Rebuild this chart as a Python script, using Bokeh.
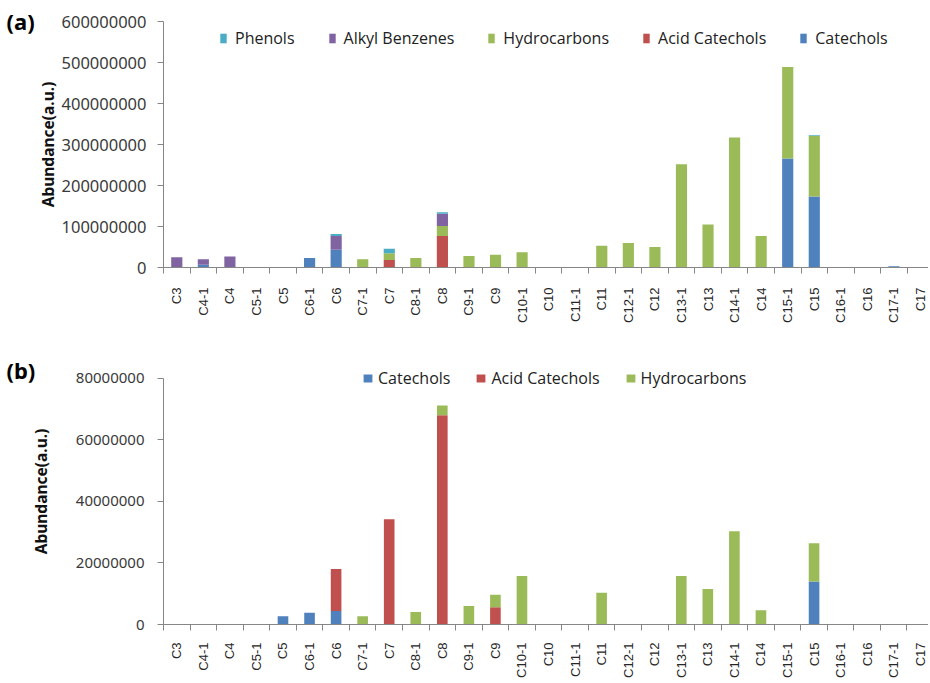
import math
from bokeh.plotting import figure
from bokeh.layouts import column, row
from bokeh.models import (ColumnDataSource, Range1d, FixedTicker, SingleIntervalTicker,
                          NumeralTickFormatter, Legend, LegendItem)
from bokeh.core.properties import value
from bokeh.embed import file_html
from bokeh.resources import INLINE

categories = ["C3", "C4-1", "C4", "C5-1", "C5", "C6-1", "C6", "C7-1", "C7", "C8-1",
              "C8", "C9-1", "C9", "C10-1", "C10", "C11-1", "C11", "C12-1", "C12",
              "C13-1", "C13", "C14-1", "C14", "C15-1", "C15", "C16-1", "C16",
              "C17-1", "C17"]

# Panel (a)
catechols_a = [0, 7e6, 0, 0, 0, 23e6, 43e6, 0, 0, 0, 0, 0, 0, 0, 0, 0, 0, 0, 0,
               0, 0, 0, 0, 266e6, 173e6, 0, 0, 3e6, 0]
acid_catechols_a = [0, 0, 0, 0, 0, 0, 0, 0, 18e6, 0, 77e6, 0, 0, 0, 0, 0, 0, 0, 0,
                    0, 0, 0, 0, 0, 0, 0, 0, 0, 0]
hydrocarbons_a = [0, 0, 0, 0, 0, 0, 0, 20e6, 17e6, 23e6, 24e6, 28e6, 31e6, 37e6, 0, 0,
                  53e6, 60e6, 50e6, 252e6, 105e6, 317e6, 77e6, 223e6, 148e6, 0, 0, 0, 0]
alkyl_benzenes_a = [25e6, 13e6, 27e6, 0, 0, 0, 34e6, 0, 0, 0, 30e6, 0, 0, 0, 0, 0, 0,
                    0, 0, 0, 0, 0, 0, 0, 0, 0, 0, 0, 0]
phenols_a = [0, 0, 0, 0, 0, 0, 5e6, 0, 11e6, 0, 4e6, 0, 0, 0, 0, 0, 0, 0, 0, 0, 0,
             0, 0, 0, 1.5e6, 0, 0, 0, 0]

# Panel (b)
catechols_b = [0, 0, 0, 0, 2.7e6, 3.8e6, 4.4e6, 0, 0, 0, 0, 0, 0, 0, 0, 0, 0, 0, 0,
               0, 0, 0, 0, 0, 14e6, 0, 0, 0, 0]
acid_catechols_b = [0, 0, 0, 0, 0, 0, 13.6e6, 0, 34.2e6, 0, 68e6, 0, 5.6e6, 0, 0, 0,
                    0, 0, 0, 0, 0, 0, 0, 0, 0, 0, 0, 0, 0]
hydrocarbons_b = [0, 0, 0, 0, 0, 0, 0, 2.7e6, 0, 4.1e6, 3.2e6, 6e6, 4.1e6, 15.8e6, 0,
                  0, 10.3e6, 0, 0, 15.8e6, 11.5e6, 30.3e6, 4.6e6, 0, 12.4e6, 0, 0, 0, 0]

y_max_a = 600000000
y_max_b = 80000000
y_step_a = 100000000
y_step_b = 20000000
panel_labels = ["(a)", "(b)"]
y_title = "Abundance(a.u.)"

COL = {"Catechols": "#4F81BD", "Acid Catechols": "#C0504D", "Hydrocarbons": "#9BBB59",
       "Alkyl Benzenes": "#8064A2", "Phenols": "#4BACC6"}
AXIS = "#868686"
n = len(categories)
xs = list(range(n))
STRIP_W = 58
STRIP_H = 680
MAIN_W = 870


def make_fig(height, border_top, border_bottom, border_left, x_end, y_end, y_max, interval,
             ylab_size, ylab_standoff, tick_standoff):
    p = figure(width=MAIN_W, height=height, x_range=Range1d(-0.5, x_end),
               y_range=Range1d(0, y_end), output_backend="svg", toolbar_location=None,
               min_border_left=border_left, min_border_right=0,
               min_border_top=border_top, min_border_bottom=border_bottom)
    p.outline_line_color = None
    p.xgrid.visible = False
    p.ygrid.visible = False
    xa = p.xaxis[0]
    xa.ticker = FixedTicker(ticks=xs, minor_ticks=[i - 0.5 for i in range(n + 1)])
    xa.major_label_overrides = {i: c for i, c in enumerate(categories)}
    xa.major_label_orientation = math.pi / 2
    xa.major_tick_line_color = None
    xa.major_tick_out = 0
    xa.major_tick_in = 0
    xa.minor_tick_out = 6
    xa.minor_tick_in = 0
    xa.minor_tick_line_color = AXIS
    xa.axis_line_color = AXIS
    xa.major_label_standoff = tick_standoff
    xa.major_label_text_font = "Liberation Sans"
    xa.major_label_text_font_size = "13px"
    xa.major_label_text_color = "#262626"
    ya = p.yaxis[0]
    ya.bounds = (0, y_max)
    ya.ticker = SingleIntervalTicker(interval=interval, num_minor_ticks=0)
    ya.formatter = NumeralTickFormatter(format="0")
    ya.axis_line_color = AXIS
    ya.major_tick_line_color = AXIS
    ya.major_tick_out = 6
    ya.major_tick_in = 0
    ya.minor_tick_line_color = None
    ya.major_label_standoff = ylab_standoff
    ya.major_label_text_font = "Noto Sans"
    ya.major_label_text_font_size = ylab_size
    ya.major_label_text_color = "#3a3a3a"
    return p


def make_legend(renderers, names, loc, gw, gh, standoff, spacing):
    return Legend(items=[LegendItem(label=s, renderers=[renderers[s]]) for s in names],
                  orientation="horizontal", location=loc, glyph_width=gw, glyph_height=gh,
                  label_standoff=standoff, spacing=spacing, padding=0, margin=0,
                  label_height=16, border_line_color=None, background_fill_alpha=0,
                  label_text_font="Open Sans", label_text_font_size="16px",
                  label_text_color="#222222")


# ---------- (a)
src_a = ColumnDataSource(dict(x=xs, **{"Catechols": catechols_a,
                                       "Acid Catechols": acid_catechols_a,
                                       "Hydrocarbons": hydrocarbons_a,
                                       "Alkyl Benzenes": alkyl_benzenes_a,
                                       "Phenols": phenols_a}))
stack_a = ["Catechols", "Acid Catechols", "Hydrocarbons", "Alkyl Benzenes", "Phenols"]
pa = make_fig(330, 21, 63, 104, 28.30, y_max_a, y_max_a, y_step_a, "16.5px", 11, 14)
ra = pa.vbar_stack(stack_a, x="x", width=0.42, color=[COL[s] for s in stack_a],
                   line_color=None, source=src_a)
pa.add_layout(make_legend(dict(zip(stack_a, ra)),
                          ["Phenols", "Alkyl Benzenes", "Hydrocarbons", "Acid Catechols", "Catechols"],
                          (56, 218), 8, 12, 8, 33))

# ---------- (b)
src_b = ColumnDataSource(dict(x=xs, **{"Catechols": catechols_b,
                                       "Acid Catechols": acid_catechols_b,
                                       "Hydrocarbons": hydrocarbons_b}))
stack_b = ["Catechols", "Acid Catechols", "Hydrocarbons"]
pb = make_fig(350, 30, 55, 99, 28.31, 85.8e6, y_max_b, y_step_b, "15px", 13, 12)
rb = pb.vbar_stack(stack_b, x="x", width=0.40, color=[COL[s] for s in stack_b],
                   line_color=None, source=src_b)
pb.add_layout(make_legend(dict(zip(stack_b, rb)), stack_b, (199, 235), 11, 10, 5, 25))

# ---------- left strip: panel letters and the rotated y-axis titles
strip = figure(width=STRIP_W, height=STRIP_H, x_range=Range1d(0, STRIP_W),
               y_range=Range1d(0, STRIP_H), output_backend="svg", toolbar_location=None,
               x_axis_location=None, y_axis_location=None,
               min_border=0, min_border_left=0, min_border_right=0,
               min_border_top=0, min_border_bottom=0)
strip.outline_line_color = None
strip.xgrid.visible = False
strip.ygrid.visible = False
strip.text(x=[6, 6], y=[STRIP_H - 5, STRIP_H - 354], text=panel_labels,
           text_font=value("Noto Sans"), text_font_style="bold", text_font_size="22px",
           text_baseline="top", text_align="left", text_color="#000000")
strip.text(x=[47, 40], y=[STRIP_H - 144, STRIP_H - 491], text=[y_title, y_title],
           angle=math.pi / 2, text_font=value("Noto Sans"), text_font_style="bold",
           text_font_size="15.5px", text_baseline="middle", text_align="center",
           text_color="#111111")

layout = row(strip, column(pa, pb, spacing=0), spacing=0)
open("out.html", "w").write(file_html(layout, INLINE))
